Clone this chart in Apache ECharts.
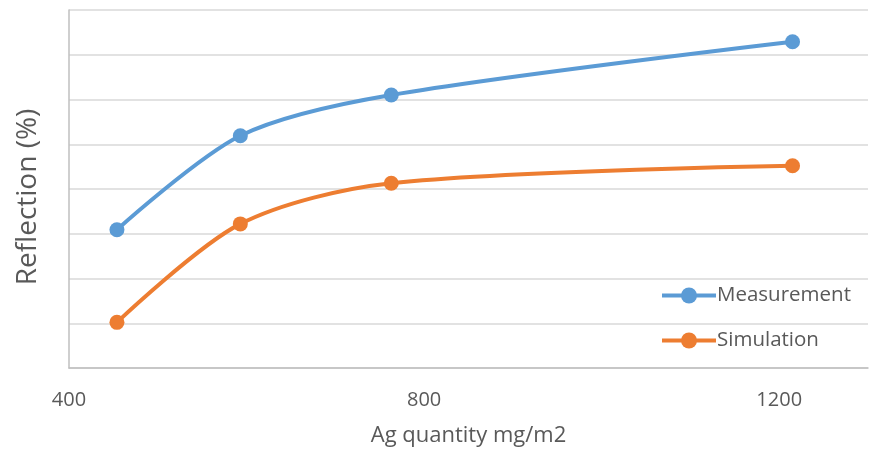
<!DOCTYPE html>
<html>
<head>
<meta charset="utf-8">
<script src="https://cdn.jsdelivr.net/npm/echarts@6/dist/echarts.min.js"></script>
<style>html,body{margin:0;padding:0;background:#fff;}#c{width:875px;height:461px;}</style>
</head>
<body>
<div id="c"></div>
<script>
var agQuantity = [454, 593, 763, 1215];
var measurement = [3.09, 5.19, 6.10, 7.29];
var simulation = [1.02, 3.22, 4.13, 4.52];
var xTicks = [400, 800, 1200];
var seriesNames = ['Measurement', 'Simulation'];

var FONT = '"Open Sans", "Noto Sans", sans-serif';
var chart = echarts.init(document.getElementById('c'));
function pairs(xs, ys) { return xs.map(function (x, i) { return [x, ys[i]]; }); }
chart.setOption({
  animation: false,
  grid: { left: 69, right: 7, top: 10, bottom: 93, containLabel: false },
  legend: {
    orient: 'vertical', left: 655, top: 280,
    itemWidth: 54, itemHeight: 20, itemGap: 24,
    lineStyle: { width: 4 },
    textStyle: { fontFamily: FONT, fontSize: 20.5, color: '#595959', padding: [0,0,0,-4] },
    data: seriesNames
  },
  xAxis: {
    type: 'value', min: 400, max: 1300, interval: 400,
    name: 'Ag quantity mg/m2', nameLocation: 'middle', nameGap: 57,
    nameTextStyle: { fontFamily: FONT, fontSize: 22, color: '#595959' },
    axisLine: { show: true, lineStyle: { color: '#bfbfbf', width: 1.5 } },
    axisTick: { show: false },
    splitLine: { show: false },
    axisLabel: {
      fontFamily: FONT, fontSize: 20, color: '#595959', margin: 22,
      showMaxLabel: false,
      formatter: function (v) { return xTicks.indexOf(v) >= 0 ? String(v) : ''; }
    }
  },
  yAxis: {
    type: 'value', min: 0, max: 8, interval: 1,
    name: 'Reflection (%)', nameLocation: 'middle', nameGap: 27, nameRotate: 90,
    nameTextStyle: { fontFamily: FONT, fontSize: 28, color: '#595959', padding: [0, 16, 0, 0] },
    axisLine: { show: true, lineStyle: { color: '#bfbfbf', width: 1.5 } },
    axisTick: { show: false },
    axisLabel: { show: false },
    splitLine: { show: true, lineStyle: { color: '#d9d9d9', width: 1.5 } }
  },
  series: [
    {
      name: seriesNames[0], type: 'line', smooth: 0.3,
      data: pairs(agQuantity, measurement),
      symbol: 'circle', symbolSize: 15,
      lineStyle: { color: '#5B9BD5', width: 4 },
      itemStyle: { color: '#5B9BD5' }
    },
    {
      name: seriesNames[1], type: 'line', smooth: 0.3,
      data: pairs(agQuantity, simulation),
      symbol: 'circle', symbolSize: 15,
      lineStyle: { color: '#ED7D31', width: 4 },
      itemStyle: { color: '#ED7D31' }
    }
  ]
});
</script>
</body>
</html>
